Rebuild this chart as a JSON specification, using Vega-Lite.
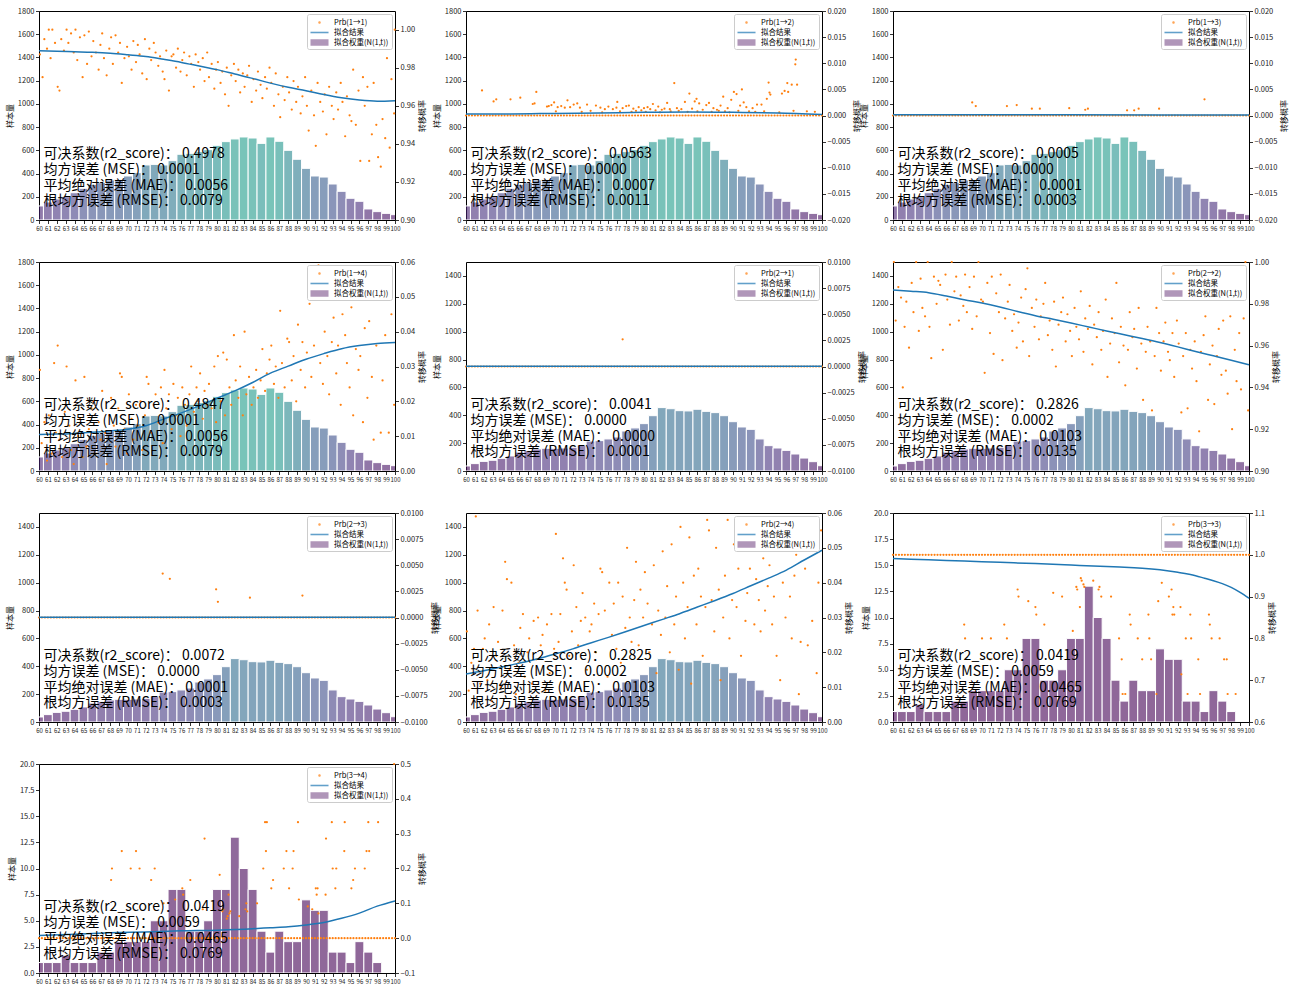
{
"$schema": "https://vega.github.io/schema/vega-lite/v6.json",
"background": "white",
"padding": {"left": 5, "top": 6, "right": 5, "bottom": 5},
"datasets": {
"bA": [{"a":60,"n":121},{"a":61,"n":155},{"a":62,"n":181},{"a":63,"n":201},{"a":64,"n":235},{"a":65,"n":273},{"a":66,"n":307},{"a":67,"n":322},{"a":68,"n":345},{"a":69,"n":350},{"a":70,"n":379},{"a":71,"n":408},{"a":72,"n":474},{"a":73,"n":479},{"a":74,"n":474},{"a":75,"n":511},{"a":76,"n":566},{"a":77,"n":574},{"a":78,"n":589},{"a":79,"n":606},{"a":80,"n":643},{"a":81,"n":675},{"a":82,"n":698},{"a":83,"n":715},{"a":84,"n":706},{"a":85,"n":660},{"a":86,"n":715},{"a":87,"n":678},{"a":88,"n":600},{"a":89,"n":523},{"a":90,"n":445},{"a":91,"n":379},{"a":92,"n":370},{"a":93,"n":310},{"a":94,"n":247},{"a":95,"n":187},{"a":96,"n":161},{"a":97,"n":95},{"a":98,"n":72},{"a":99,"n":57},{"a":100,"n":46}],
"bB": [{"a":60,"n":36},{"a":61,"n":53},{"a":62,"n":69},{"a":63,"n":77},{"a":64,"n":91},{"a":65,"n":108},{"a":66,"n":136},{"a":67,"n":148},{"a":68,"n":158},{"a":69,"n":163},{"a":70,"n":163},{"a":71,"n":165},{"a":72,"n":170},{"a":73,"n":184},{"a":74,"n":215},{"a":75,"n":218},{"a":76,"n":230},{"a":77,"n":244},{"a":78,"n":287},{"a":79,"n":309},{"a":80,"n":340},{"a":81,"n":397},{"a":82,"n":455},{"a":83,"n":447},{"a":84,"n":433},{"a":85,"n":431},{"a":86,"n":443},{"a":87,"n":428},{"a":88,"n":419},{"a":89,"n":397},{"a":90,"n":354},{"a":91,"n":316},{"a":92,"n":299},{"a":93,"n":230},{"a":94,"n":182},{"a":95,"n":165},{"a":96,"n":148},{"a":97,"n":122},{"a":98,"n":93},{"a":99,"n":67},{"a":100,"n":38}],
"bC": [{"a":60,"n":1},{"a":61,"n":1},{"a":62,"n":1},{"a":63,"n":1.7},{"a":64,"n":1},{"a":65,"n":1},{"a":66,"n":1},{"a":67,"n":2},{"a":68,"n":2},{"a":69,"n":3},{"a":70,"n":3},{"a":71,"n":3},{"a":72,"n":3},{"a":73,"n":5},{"a":74,"n":5},{"a":75,"n":8},{"a":76,"n":8},{"a":77,"n":4},{"a":78,"n":4},{"a":79,"n":5},{"a":80,"n":8},{"a":81,"n":8},{"a":82,"n":13},{"a":83,"n":10},{"a":84,"n":8},{"a":85,"n":4},{"a":86,"n":2},{"a":87,"n":4},{"a":88,"n":3},{"a":89,"n":3},{"a":90,"n":7},{"a":91,"n":6},{"a":92,"n":6},{"a":93,"n":2},{"a":94,"n":2},{"a":95,"n":1},{"a":96,"n":3},{"a":97,"n":2},{"a":98,"n":1}],
"zr": [{"x":60},{"x":60.33},{"x":60.67},{"x":61},{"x":61.33},{"x":61.67},{"x":62},{"x":62.33},{"x":62.67},{"x":63},{"x":63.33},{"x":63.67},{"x":64},{"x":64.33},{"x":64.67},{"x":65},{"x":65.33},{"x":65.67},{"x":66},{"x":66.33},{"x":66.67},{"x":67},{"x":67.33},{"x":67.67},{"x":68},{"x":68.33},{"x":68.67},{"x":69},{"x":69.33},{"x":69.67},{"x":70},{"x":70.33},{"x":70.67},{"x":71},{"x":71.33},{"x":71.67},{"x":72},{"x":72.33},{"x":72.67},{"x":73},{"x":73.33},{"x":73.67},{"x":74},{"x":74.33},{"x":74.67},{"x":75},{"x":75.33},{"x":75.67},{"x":76},{"x":76.33},{"x":76.67},{"x":77},{"x":77.33},{"x":77.67},{"x":78},{"x":78.33},{"x":78.67},{"x":79},{"x":79.33},{"x":79.67},{"x":80},{"x":80.33},{"x":80.67},{"x":81},{"x":81.33},{"x":81.67},{"x":82},{"x":82.33},{"x":82.67},{"x":83},{"x":83.33},{"x":83.67},{"x":84},{"x":84.33},{"x":84.67},{"x":85},{"x":85.33},{"x":85.67},{"x":86},{"x":86.33},{"x":86.67},{"x":87},{"x":87.33},{"x":87.67},{"x":88},{"x":88.33},{"x":88.67},{"x":89},{"x":89.33},{"x":89.67},{"x":90},{"x":90.33},{"x":90.67},{"x":91},{"x":91.33},{"x":91.67},{"x":92},{"x":92.33},{"x":92.67},{"x":93},{"x":93.33},{"x":93.67},{"x":94},{"x":94.33},{"x":94.67},{"x":95},{"x":95.33},{"x":95.67},{"x":96},{"x":96.33},{"x":96.67},{"x":97},{"x":97.33},{"x":97.67},{"x":98},{"x":98.33},{"x":98.67},{"x":99},{"x":99.33},{"x":99.67},{"x":100}],
"s1": [{"x":60.1,"y":0.987},{"x":60.4,"y":0.975},{"x":60.6,"y":0.995},{"x":60.9,"y":0.99},{"x":61.1,"y":1},{"x":61.3,"y":0.985},{"x":61.5,"y":1},{"x":61.8,"y":0.993},{"x":62.1,"y":0.97},{"x":62.3,"y":0.968},{"x":62.5,"y":0.995},{"x":62.8,"y":0.989},{"x":63.1,"y":1},{"x":63.3,"y":0.993},{"x":63.6,"y":0.998},{"x":63.9,"y":0.988},{"x":64.1,"y":1},{"x":64.3,"y":0.984},{"x":64.6,"y":0.996},{"x":64.9,"y":0.975},{"x":65.1,"y":0.997},{"x":65.4,"y":0.982},{"x":65.6,"y":0.999},{"x":65.9,"y":0.986},{"x":66.1,"y":0.994},{"x":66.4,"y":0.988},{"x":66.7,"y":0.979},{"x":66.9,"y":0.992},{"x":67.1,"y":0.998},{"x":67.3,"y":0.985},{"x":67.6,"y":0.976},{"x":67.9,"y":0.99},{"x":68.1,"y":0.996},{"x":68.3,"y":0.982},{"x":68.6,"y":0.997},{"x":68.9,"y":0.988},{"x":69.1,"y":0.993},{"x":69.3,"y":0.972},{"x":69.6,"y":0.985},{"x":69.9,"y":0.991},{"x":70.1,"y":0.986},{"x":70.4,"y":0.979},{"x":70.6,"y":0.994},{"x":70.9,"y":0.983},{"x":71.1,"y":0.992},{"x":71.3,"y":0.987},{"x":71.6,"y":0.977},{"x":71.9,"y":0.995},{"x":72.1,"y":0.974},{"x":72.4,"y":0.99},{"x":72.6,"y":0.984},{"x":72.9,"y":0.993},{"x":73.1,"y":0.988},{"x":73.4,"y":0.981},{"x":73.6,"y":0.986},{"x":73.9,"y":0.978},{"x":74.1,"y":0.974},{"x":74.3,"y":0.989},{"x":74.6,"y":0.968},{"x":74.9,"y":0.986},{"x":75.1,"y":0.987},{"x":75.4,"y":0.98},{"x":75.6,"y":0.99},{"x":75.9,"y":0.978},{"x":76.1,"y":0.984},{"x":76.3,"y":0.988},{"x":76.6,"y":0.976},{"x":76.9,"y":0.986},{"x":77.1,"y":0.982},{"x":77.4,"y":0.97},{"x":77.6,"y":0.987},{"x":77.9,"y":0.983},{"x":78.1,"y":0.979},{"x":78.4,"y":0.985},{"x":78.6,"y":0.973},{"x":78.9,"y":0.988},{"x":79.1,"y":0.975},{"x":79.4,"y":0.982},{"x":79.7,"y":0.969},{"x":79.9,"y":0.979},{"x":80.1,"y":0.983},{"x":80.4,"y":0.972},{"x":80.6,"y":0.978},{"x":80.9,"y":0.966},{"x":81.1,"y":0.98},{"x":81.3,"y":0.96},{"x":81.6,"y":0.976},{"x":81.9,"y":0.982},{"x":82.1,"y":0.973},{"x":82.4,"y":0.979},{"x":82.6,"y":0.967},{"x":82.9,"y":0.977},{"x":83.1,"y":0.97},{"x":83.4,"y":0.976},{"x":83.6,"y":0.981},{"x":83.9,"y":0.962},{"x":84.1,"y":0.974},{"x":84.4,"y":0.968},{"x":84.6,"y":0.978},{"x":84.9,"y":0.971},{"x":85.1,"y":0.964},{"x":85.4,"y":0.975},{"x":85.6,"y":0.969},{"x":85.9,"y":0.98},{"x":86.1,"y":0.972},{"x":86.4,"y":0.96},{"x":86.6,"y":0.977},{"x":86.9,"y":0.966},{"x":87.1,"y":0.954},{"x":87.4,"y":0.97},{"x":87.6,"y":0.963},{"x":87.9,"y":0.975},{"x":88.1,"y":0.967},{"x":88.4,"y":0.958},{"x":88.6,"y":0.973},{"x":88.9,"y":0.962},{"x":89.1,"y":0.97},{"x":89.4,"y":0.956},{"x":89.6,"y":0.965},{"x":89.9,"y":0.975},{"x":90.1,"y":0.96},{"x":90.3,"y":0.947},{"x":90.6,"y":0.968},{"x":90.9,"y":0.955},{"x":91.1,"y":0.939},{"x":91.3,"y":0.972},{"x":91.6,"y":0.962},{"x":91.9,"y":0.957},{"x":92.1,"y":0.966},{"x":92.3,"y":0.945},{"x":92.6,"y":0.97},{"x":92.9,"y":0.96},{"x":93.1,"y":0.953},{"x":93.4,"y":0.967},{"x":93.6,"y":0.958},{"x":93.9,"y":0.972},{"x":94.1,"y":0.962},{"x":94.4,"y":0.944},{"x":94.6,"y":0.965},{"x":94.9,"y":0.955},{"x":95.1,"y":0.952},{"x":95.3,"y":0.979},{"x":95.6,"y":0.95},{"x":95.9,"y":0.968},{"x":96.1,"y":0.931},{"x":96.4,"y":0.975},{"x":96.6,"y":0.96},{"x":96.9,"y":0.97},{"x":97.1,"y":0.931},{"x":97.4,"y":0.945},{"x":97.6,"y":0.972},{"x":97.9,"y":0.95},{"x":98.1,"y":0.933},{"x":98.4,"y":0.928},{"x":98.6,"y":0.953},{"x":98.9,"y":0.943},{"x":99.1,"y":0.985},{"x":99.4,"y":0.938},{"x":99.6,"y":0.974},{"x":99.9,"y":0.956},{"x":99.97,"y":1}],
"s2": [{"x":61.8,"y":0.0048},{"x":63.1,"y":0.0027},{"x":63.4,"y":0.0031},{"x":65,"y":0.0031},{"x":66.1,"y":0.0034},{"x":67.5,"y":0.0022},{"x":67.7,"y":0.0023},{"x":67.9,"y":0.0045},{"x":69.1,"y":0.0017},{"x":69.3,"y":0.0018},{"x":69.6,"y":0.002},{"x":69.9,"y":0.0025},{"x":70.1,"y":0.0008},{"x":70.3,"y":0.0016},{"x":70.7,"y":0.0018},{"x":71.1,"y":0.0015},{"x":71.4,"y":0.0029},{"x":71.7,"y":0.0016},{"x":72.1,"y":0.0021},{"x":72.5,"y":0.0023},{"x":72.8,"y":0.0015},{"x":73,"y":0.0007},{"x":73.6,"y":0.0021},{"x":74,"y":0.0009},{"x":74.6,"y":0.0019},{"x":75.1,"y":0.0015},{"x":75.3,"y":0.0006},{"x":75.6,"y":0.0012},{"x":76,"y":0.0017},{"x":76.5,"y":0.0012},{"x":76.9,"y":0.0015},{"x":77,"y":0.0026},{"x":77.3,"y":0.0008},{"x":77.6,"y":0.0014},{"x":78,"y":0.0018},{"x":78.3,"y":0.0019},{"x":78.6,"y":0.0007},{"x":78.8,"y":0.0013},{"x":79.1,"y":0.0009},{"x":79.4,"y":0.0016},{"x":79.7,"y":0.001},{"x":80,"y":0.0014},{"x":80.2,"y":0.0007},{"x":80.4,"y":0.0016},{"x":80.7,"y":0.0012},{"x":81,"y":0.0022},{"x":81.3,"y":0.001},{"x":81.6,"y":0.0017},{"x":81.8,"y":0.0006},{"x":82,"y":0.0011},{"x":82.3,"y":0.0013},{"x":82.6,"y":0.0024},{"x":82.9,"y":0.0012},{"x":83,"y":0.0008},{"x":83.4,"y":0.0062},{"x":83.7,"y":0.0014},{"x":83.9,"y":0.0009},{"x":84.2,"y":0.0012},{"x":84.6,"y":0.0026},{"x":84.9,"y":0.0007},{"x":85.1,"y":0.0042},{"x":85.4,"y":0.0013},{"x":85.7,"y":0.0027},{"x":85.9,"y":0.0032},{"x":86,"y":0.0008},{"x":86.2,"y":0.0023},{"x":86.6,"y":0.0011},{"x":87,"y":0.002},{"x":87.3,"y":0.0024},{"x":87.6,"y":0.0007},{"x":87.8,"y":0.0014},{"x":88.2,"y":0.0011},{"x":88.4,"y":0.0009},{"x":88.6,"y":0.0019},{"x":88.9,"y":0.0036},{"x":89.1,"y":0.0008},{"x":89.4,"y":0.0014},{"x":89.6,"y":0.0006},{"x":89.8,"y":0.003},{"x":90.1,"y":0.0045},{"x":90.4,"y":0.0041},{"x":90.6,"y":0.0009},{"x":90.8,"y":0.0019},{"x":91,"y":0.005},{"x":91.2,"y":0.0025},{"x":91.5,"y":0.0016},{"x":91.8,"y":0.0008},{"x":92.2,"y":0.0014},{"x":92.5,"y":0.0007},{"x":92.7,"y":0.0021},{"x":93.2,"y":0.0021},{"x":93.5,"y":0.0008},{"x":93.8,"y":0.0032},{"x":94,"y":0.0063},{"x":94.1,"y":0.0044},{"x":94.2,"y":0.004},{"x":95.2,"y":0.0006},{"x":95.5,"y":0.0042},{"x":95.8,"y":0.0047},{"x":96.1,"y":0.0062},{"x":96.2,"y":0.0045},{"x":96.6,"y":0.0059},{"x":96.8,"y":0.0009},{"x":97,"y":0.0098},{"x":97.05,"y":0.0107},{"x":97.2,"y":0.0059},{"x":98.3,"y":0.0008},{"x":99.2,"y":0.0007}],
"s3": [{"x":68.9,"y":0.0025},{"x":69.3,"y":0.0018},{"x":72.8,"y":0.0018},{"x":73.9,"y":0.002},{"x":75.6,"y":0.0013},{"x":76.5,"y":0.0013},{"x":79.8,"y":0.0014},{"x":81.6,"y":0.0011},{"x":81.9,"y":0.0013},{"x":86.3,"y":0.001},{"x":87.1,"y":0.001},{"x":87.6,"y":0.0013},{"x":89.9,"y":0.0013},{"x":95,"y":0.0031}],
"s4": [{"x":60.1,"y":0.029},{"x":60.3,"y":0.008},{"x":60.6,"y":0.014},{"x":60.9,"y":0.003},{"x":61.1,"y":0.016},{"x":61.4,"y":0.005},{"x":61.7,"y":0.031},{"x":61.9,"y":0.011},{"x":62.1,"y":0.036},{"x":62.3,"y":0.009},{"x":62.6,"y":0.004},{"x":62.9,"y":0.017},{"x":63.1,"y":0.03},{"x":63.4,"y":0.013},{"x":63.6,"y":0.006},{"x":63.9,"y":0.002},{"x":64.1,"y":0.026},{"x":64.4,"y":0.01},{"x":64.6,"y":0.015},{"x":64.9,"y":0.004},{"x":65.1,"y":0.027},{"x":65.3,"y":0.007},{"x":65.6,"y":0.012},{"x":65.9,"y":0.018},{"x":66.1,"y":0.02},{"x":66.4,"y":0.005},{"x":66.7,"y":0.014},{"x":66.9,"y":0.009},{"x":67.1,"y":0.023},{"x":67.4,"y":0.011},{"x":67.6,"y":0.002},{"x":67.9,"y":0.016},{"x":68.1,"y":0.021},{"x":68.4,"y":0.013},{"x":68.6,"y":0.007},{"x":68.9,"y":0.018},{"x":69.1,"y":0.028},{"x":69.3,"y":0.027},{"x":69.6,"y":0.012},{"x":69.9,"y":0.005},{"x":70.1,"y":0.022},{"x":70.4,"y":0.015},{"x":70.6,"y":0.009},{"x":70.9,"y":0.019},{"x":71.1,"y":0.013},{"x":71.4,"y":0.02},{"x":71.6,"y":0.006},{"x":71.9,"y":0.016},{"x":72.1,"y":0.027},{"x":72.3,"y":0.025},{"x":72.6,"y":0.011},{"x":72.9,"y":0.019},{"x":73.1,"y":0.022},{"x":73.4,"y":0.014},{"x":73.7,"y":0.024},{"x":73.9,"y":0.008},{"x":74.1,"y":0.029},{"x":74.3,"y":0.018},{"x":74.6,"y":0.022},{"x":74.9,"y":0.012},{"x":75.1,"y":0.025},{"x":75.4,"y":0.016},{"x":75.6,"y":0.021},{"x":75.9,"y":0.01},{"x":76.1,"y":0.024},{"x":76.4,"y":0.019},{"x":76.6,"y":0.013},{"x":76.9,"y":0.022},{"x":77.1,"y":0.03},{"x":77.4,"y":0.017},{"x":77.7,"y":0.024},{"x":77.9,"y":0.02},{"x":78.1,"y":0.028},{"x":78.4,"y":0.015},{"x":78.6,"y":0.023},{"x":78.9,"y":0.019},{"x":79.1,"y":0.025},{"x":79.4,"y":0.018},{"x":79.7,"y":0.03},{"x":79.9,"y":0.014},{"x":80.1,"y":0.033},{"x":80.4,"y":0.02},{"x":80.7,"y":0.034},{"x":80.9,"y":0.016},{"x":81.1,"y":0.032},{"x":81.4,"y":0.024},{"x":81.6,"y":0.019},{"x":81.9,"y":0.039},{"x":82.1,"y":0.026},{"x":82.4,"y":0.021},{"x":82.6,"y":0.03},{"x":82.9,"y":0.016},{"x":83.1,"y":0.04},{"x":83.3,"y":0.022},{"x":83.6,"y":0.027},{"x":83.9,"y":0.019},{"x":84.1,"y":0.024},{"x":84.4,"y":0.029},{"x":84.6,"y":0.021},{"x":84.9,"y":0.026},{"x":85.1,"y":0.035},{"x":85.4,"y":0.023},{"x":85.6,"y":0.028},{"x":85.9,"y":0.032},{"x":86.1,"y":0.036},{"x":86.4,"y":0.025},{"x":86.6,"y":0.03},{"x":86.9,"y":0.021},{"x":87.1,"y":0.046},{"x":87.3,"y":0.031},{"x":87.6,"y":0.024},{"x":87.9,"y":0.038},{"x":88.1,"y":0.037},{"x":88.4,"y":0.026},{"x":88.6,"y":0.033},{"x":88.9,"y":0.02},{"x":89.1,"y":0.042},{"x":89.4,"y":0.029},{"x":89.6,"y":0.037},{"x":89.9,"y":0.024},{"x":90.1,"y":0.034},{"x":90.4,"y":0.048},{"x":90.6,"y":0.027},{"x":90.9,"y":0.036},{"x":91.1,"y":0.05},{"x":91.4,"y":0.059},{"x":91.6,"y":0.031},{"x":91.9,"y":0.025},{"x":92.1,"y":0.04},{"x":92.4,"y":0.033},{"x":92.6,"y":0.022},{"x":92.9,"y":0.037},{"x":93.1,"y":0.044},{"x":93.4,"y":0.028},{"x":93.6,"y":0.036},{"x":93.9,"y":0.019},{"x":94.1,"y":0.045},{"x":94.4,"y":0.039},{"x":94.6,"y":0.031},{"x":94.9,"y":0.024},{"x":95.1,"y":0.047},{"x":95.3,"y":0.016},{"x":95.6,"y":0.035},{"x":95.9,"y":0.029},{"x":96.1,"y":0.033},{"x":96.4,"y":0.014},{"x":96.6,"y":0.041},{"x":96.9,"y":0.021},{"x":97.1,"y":0.043},{"x":97.4,"y":0.027},{"x":97.6,"y":0.009},{"x":97.9,"y":0.036},{"x":98.1,"y":0.05},{"x":98.4,"y":0.011},{"x":98.6,"y":0.026},{"x":98.9,"y":0.039},{"x":99.1,"y":0.058},{"x":99.3,"y":0.011},{"x":99.6,"y":0.045},{"x":99.9,"y":0.019}],
"s5": [{"x":77.6,"y":0.0026}],
"s6": [{"x":60.1,"y":1},{"x":60.3,"y":0.972},{"x":60.6,"y":0.988},{"x":60.9,"y":0.983},{"x":61.1,"y":0.94},{"x":61.3,"y":0.969},{"x":61.5,"y":0.981},{"x":61.8,"y":0.959},{"x":62.1,"y":0.99},{"x":62.3,"y":0.976},{"x":62.6,"y":1},{"x":62.9,"y":0.967},{"x":63.1,"y":0.992},{"x":63.3,"y":0.978},{"x":63.6,"y":0.974},{"x":63.9,"y":1},{"x":64.1,"y":0.969},{"x":64.3,"y":0.954},{"x":64.6,"y":0.993},{"x":64.9,"y":0.98},{"x":65.1,"y":0.991},{"x":65.3,"y":0.989},{"x":65.6,"y":0.958},{"x":65.9,"y":0.994},{"x":66.1,"y":0.982},{"x":66.4,"y":0.97},{"x":66.6,"y":1},{"x":66.9,"y":0.986},{"x":67.1,"y":0.993},{"x":67.4,"y":0.972},{"x":67.6,"y":0.984},{"x":67.9,"y":0.979},{"x":68.1,"y":0.994},{"x":68.3,"y":0.976},{"x":68.6,"y":0.988},{"x":68.9,"y":0.968},{"x":69.1,"y":0.993},{"x":69.4,"y":0.974},{"x":69.6,"y":1},{"x":69.9,"y":0.982},{"x":70.1,"y":0.981},{"x":70.3,"y":0.947},{"x":70.6,"y":0.99},{"x":70.9,"y":0.966},{"x":71.1,"y":0.993},{"x":71.3,"y":0.956},{"x":71.6,"y":0.985},{"x":71.9,"y":0.976},{"x":72.1,"y":0.994},{"x":72.3,"y":0.953},{"x":72.6,"y":0.973},{"x":72.9,"y":0.981},{"x":73.1,"y":0.989},{"x":73.4,"y":0.967},{"x":73.6,"y":0.975},{"x":73.9,"y":0.959},{"x":74.1,"y":0.971},{"x":74.4,"y":0.983},{"x":74.6,"y":0.962},{"x":74.9,"y":0.987},{"x":75.1,"y":0.997},{"x":75.3,"y":0.955},{"x":75.6,"y":0.978},{"x":75.9,"y":0.969},{"x":76.1,"y":0.982},{"x":76.4,"y":0.963},{"x":76.6,"y":0.974},{"x":76.9,"y":0.98},{"x":77.1,"y":0.99},{"x":77.4,"y":0.965},{"x":77.6,"y":0.972},{"x":77.9,"y":0.958},{"x":78.1,"y":0.981},{"x":78.3,"y":0.95},{"x":78.6,"y":0.97},{"x":78.9,"y":0.976},{"x":79.1,"y":0.983},{"x":79.4,"y":0.962},{"x":79.6,"y":0.975},{"x":79.9,"y":0.967},{"x":80.1,"y":0.955},{"x":80.4,"y":0.978},{"x":80.6,"y":0.969},{"x":80.9,"y":0.963},{"x":81.1,"y":0.986},{"x":81.4,"y":0.957},{"x":81.6,"y":0.973},{"x":81.9,"y":0.968},{"x":82.1,"y":0.979},{"x":82.4,"y":0.951},{"x":82.6,"y":0.97},{"x":82.9,"y":0.964},{"x":83.1,"y":0.976},{"x":83.4,"y":0.958},{"x":83.6,"y":0.967},{"x":83.9,"y":0.982},{"x":84.1,"y":0.945},{"x":84.4,"y":0.961},{"x":84.6,"y":0.973},{"x":84.9,"y":0.966},{"x":85.1,"y":0.99},{"x":85.4,"y":0.952},{"x":85.6,"y":0.969},{"x":85.9,"y":0.96},{"x":86.1,"y":0.941},{"x":86.4,"y":0.958},{"x":86.6,"y":0.976},{"x":86.9,"y":0.964},{"x":87.1,"y":0.968},{"x":87.4,"y":0.949},{"x":87.6,"y":0.978},{"x":87.9,"y":0.961},{"x":88.1,"y":0.934},{"x":88.4,"y":0.957},{"x":88.6,"y":0.969},{"x":88.9,"y":0.962},{"x":89.1,"y":0.929},{"x":89.4,"y":0.955},{"x":89.6,"y":0.978},{"x":89.9,"y":0.966},{"x":90.1,"y":0.948},{"x":90.4,"y":0.962},{"x":90.6,"y":0.971},{"x":90.9,"y":0.957},{"x":91.1,"y":0.953},{"x":91.4,"y":0.966},{"x":91.6,"y":0.945},{"x":91.9,"y":0.972},{"x":92.1,"y":0.961},{"x":92.4,"y":0.928},{"x":92.6,"y":0.955},{"x":92.9,"y":0.966},{"x":93.1,"y":0.93},{"x":93.4,"y":0.958},{"x":93.6,"y":0.949},{"x":93.9,"y":0.962},{"x":94.1,"y":0.943},{"x":94.4,"y":0.919},{"x":94.6,"y":0.957},{"x":94.9,"y":0.965},{"x":95.1,"y":0.974},{"x":95.4,"y":0.934},{"x":95.6,"y":0.951},{"x":95.9,"y":0.96},{"x":96.1,"y":0.932},{"x":96.4,"y":0.955},{"x":96.6,"y":0.968},{"x":96.9,"y":0.946},{"x":97.1,"y":0.972},{"x":97.4,"y":0.948},{"x":97.6,"y":0.937},{"x":97.9,"y":0.974},{"x":98.1,"y":0.92},{"x":98.4,"y":0.958},{"x":98.6,"y":0.943},{"x":98.9,"y":0.966},{"x":99.1,"y":0.939},{"x":99.4,"y":0.973},{"x":99.6,"y":1},{"x":99.9,"y":0.929}],
"s7": [{"x":73.9,"y":0.0042},{"x":74.7,"y":0.0037},{"x":79.9,"y":0.0027},{"x":80.1,"y":0.0015},{"x":83.7,"y":0.0019},{"x":89.6,"y":0.0021}],
"s8": [{"x":60.1,"y":0.026},{"x":60.3,"y":0.009},{"x":60.6,"y":0.017},{"x":60.9,"y":0.021},{"x":61.1,"y":0.059},{"x":61.3,"y":0.032},{"x":61.6,"y":0.011},{"x":61.9,"y":0.021},{"x":62.1,"y":0.024},{"x":62.4,"y":0.012},{"x":62.6,"y":0.028},{"x":62.9,"y":0.006},{"x":63.1,"y":0.033},{"x":63.4,"y":0.019},{"x":63.6,"y":0.023},{"x":63.9,"y":0.01},{"x":64.1,"y":0.032},{"x":64.4,"y":0.046},{"x":64.6,"y":0.041},{"x":64.9,"y":0.015},{"x":65.1,"y":0.04},{"x":65.4,"y":0.022},{"x":65.6,"y":0.008},{"x":65.9,"y":0.017},{"x":66.1,"y":0.027},{"x":66.4,"y":0.031},{"x":66.6,"y":0.013},{"x":66.9,"y":0.02},{"x":67.1,"y":0.024},{"x":67.4,"y":0.011},{"x":67.6,"y":0.029},{"x":67.9,"y":0.018},{"x":68.1,"y":0.03},{"x":68.4,"y":0.022},{"x":68.6,"y":0.025},{"x":68.9,"y":0.009},{"x":69.1,"y":0.028},{"x":69.4,"y":0.014},{"x":69.6,"y":0.031},{"x":69.9,"y":0.021},{"x":70.1,"y":0.054},{"x":70.4,"y":0.023},{"x":70.6,"y":0.031},{"x":70.9,"y":0.047},{"x":71.1,"y":0.04},{"x":71.3,"y":0.038},{"x":71.6,"y":0.019},{"x":71.9,"y":0.026},{"x":72.1,"y":0.045},{"x":72.4,"y":0.033},{"x":72.6,"y":0.022},{"x":72.9,"y":0.029},{"x":73.1,"y":0.037},{"x":73.4,"y":0.03},{"x":73.6,"y":0.015},{"x":73.9,"y":0.026},{"x":74.1,"y":0.028},{"x":74.4,"y":0.034},{"x":74.6,"y":0.02},{"x":74.9,"y":0.031},{"x":75.1,"y":0.044},{"x":75.3,"y":0.043},{"x":75.6,"y":0.032},{"x":75.9,"y":0.013},{"x":76.1,"y":0.04},{"x":76.4,"y":0.025},{"x":76.6,"y":0.034},{"x":76.9,"y":0.021},{"x":77.1,"y":0.04},{"x":77.4,"y":0.017},{"x":77.6,"y":0.036},{"x":77.9,"y":0.027},{"x":78.1,"y":0.05},{"x":78.4,"y":0.03},{"x":78.6,"y":0.023},{"x":78.9,"y":0.035},{"x":79.1,"y":0.046},{"x":79.4,"y":0.022},{"x":79.6,"y":0.038},{"x":79.9,"y":0.03},{"x":80.1,"y":0.043},{"x":80.4,"y":0.034},{"x":80.6,"y":0.02},{"x":80.9,"y":0.028},{"x":81.1,"y":0.045},{"x":81.4,"y":0.014},{"x":81.6,"y":0.032},{"x":81.9,"y":0.025},{"x":82.1,"y":0.049},{"x":82.4,"y":0.03},{"x":82.6,"y":0.039},{"x":82.9,"y":0.02},{"x":83.1,"y":0.051},{"x":83.4,"y":0.028},{"x":83.6,"y":0.036},{"x":83.9,"y":0.015},{"x":84.1,"y":0.056},{"x":84.4,"y":0.04},{"x":84.6,"y":0.024},{"x":84.9,"y":0.033},{"x":85.1,"y":0.053},{"x":85.3,"y":0.011},{"x":85.6,"y":0.042},{"x":85.9,"y":0.028},{"x":86.1,"y":0.044},{"x":86.4,"y":0.036},{"x":86.6,"y":0.019},{"x":86.9,"y":0.033},{"x":87.1,"y":0.058},{"x":87.3,"y":0.055},{"x":87.6,"y":0.035},{"x":87.9,"y":0.026},{"x":88.1,"y":0.05},{"x":88.4,"y":0.038},{"x":88.6,"y":0.012},{"x":88.9,"y":0.03},{"x":89.1,"y":0.042},{"x":89.4,"y":0.058},{"x":89.6,"y":0.024},{"x":89.9,"y":0.035},{"x":90.1,"y":0.051},{"x":90.4,"y":0.033},{"x":90.6,"y":0.044},{"x":90.9,"y":0.019},{"x":91.1,"y":0.05},{"x":91.4,"y":0.029},{"x":91.6,"y":0.037},{"x":91.9,"y":0.044},{"x":92.1,"y":0.05},{"x":92.4,"y":0.028},{"x":92.6,"y":0.041},{"x":92.9,"y":0.035},{"x":93.1,"y":0.026},{"x":93.4,"y":0.047},{"x":93.6,"y":0.032},{"x":93.9,"y":0.039},{"x":94.1,"y":0.045},{"x":94.4,"y":0.028},{"x":94.6,"y":0.036},{"x":94.9,"y":0.019},{"x":95.1,"y":0.052},{"x":95.3,"y":0.012},{"x":95.6,"y":0.04},{"x":95.9,"y":0.03},{"x":96.1,"y":0.05},{"x":96.4,"y":0.036},{"x":96.6,"y":0.024},{"x":96.9,"y":0.042},{"x":97.1,"y":0.048},{"x":97.4,"y":0.008},{"x":97.6,"y":0.023},{"x":97.9,"y":0.051},{"x":98.1,"y":0.044},{"x":98.4,"y":0.022},{"x":98.6,"y":0.053},{"x":98.9,"y":0.029},{"x":99.1,"y":0.057},{"x":99.4,"y":0.014},{"x":99.6,"y":0.04},{"x":99.9,"y":0.055}],
"s9": [{"x":68,"y":0.833},{"x":68.1,"y":0.8},{"x":70,"y":0.8},{"x":70.9,"y":0.75},{"x":71,"y":0.8},{"x":72.5,"y":0.833},{"x":72.8,"y":0.8},{"x":74,"y":0.917},{"x":74.1,"y":0.9},{"x":75.2,"y":0.889},{"x":76,"y":0.875},{"x":76.1,"y":0.857},{"x":77,"y":0.833},{"x":78,"y":0.909},{"x":79,"y":0.9},{"x":80.2,"y":0.818},{"x":80.6,"y":0.923},{"x":80.7,"y":0.917},{"x":81,"y":0.875},{"x":81.1,"y":0.944},{"x":81.2,"y":0.938},{"x":81.4,"y":0.929},{"x":81.5,"y":0.923},{"x":82.5,"y":0.938},{"x":83.1,"y":0.917},{"x":83.2,"y":0.923},{"x":83.4,"y":0.9},{"x":84.5,"y":0.9},{"x":85.4,"y":0.8},{"x":85.7,"y":0.75},{"x":85.8,"y":0.667},{"x":86.1,"y":0.667},{"x":86.6,"y":0.857},{"x":86.7,"y":0.833},{"x":87.5,"y":0.8},{"x":88,"y":0.75},{"x":88.7,"y":0.857},{"x":88.8,"y":0.8},{"x":89,"y":0.75},{"x":89.6,"y":0.667},{"x":89.8,"y":0.889},{"x":90.2,"y":0.933},{"x":91,"y":0.9},{"x":91.3,"y":0.917},{"x":91.4,"y":0.857},{"x":91.5,"y":0.875},{"x":91.6,"y":0.857},{"x":92.3,"y":0.875},{"x":92.4,"y":0.714},{"x":92.9,"y":0.8},{"x":93.1,"y":0.667},{"x":93.4,"y":0.857},{"x":93.5,"y":0.8},{"x":94.3,"y":0.75},{"x":94.5,"y":0.667},{"x":95.5,"y":0.857},{"x":95.6,"y":0.833},{"x":95.8,"y":0.8},{"x":96.7,"y":0.8},{"x":97.2,"y":0.75},{"x":97.5,"y":0.75},{"x":97.6,"y":0.667},{"x":98.5,"y":0.667}],
"s10": [{"x":68.1,"y":0.167},{"x":68.2,"y":0.2},{"x":69.3,"y":0.25},{"x":70.3,"y":0.2},{"x":70.9,"y":0.25},{"x":71.3,"y":0.2},{"x":72.6,"y":0.167},{"x":73,"y":0.2},{"x":74,"y":0.1},{"x":75.3,"y":0.111},{"x":76.1,"y":0.143},{"x":76.2,"y":0.125},{"x":77,"y":0.167},{"x":78.4,"y":0.083},{"x":78.6,"y":0.286},{"x":80.3,"y":0.182},{"x":80.6,"y":0.077},{"x":80.7,"y":0.083},{"x":81.1,"y":0.056},{"x":81.2,"y":0.063},{"x":81.3,"y":0.125},{"x":81.4,"y":0.071},{"x":81.5,"y":0.077},{"x":82.5,"y":0.063},{"x":83.2,"y":0.083},{"x":83.3,"y":0.1},{"x":83.4,"y":0.077},{"x":84.5,"y":0.1},{"x":85.2,"y":0.2},{"x":85.4,"y":0.333},{"x":85.5,"y":0.25},{"x":85.6,"y":0.333},{"x":86.1,"y":0.143},{"x":86.3,"y":0.167},{"x":87.5,"y":0.2},{"x":87.8,"y":0.25},{"x":88.1,"y":0.143},{"x":88.5,"y":0.2},{"x":88.6,"y":0.25},{"x":89.1,"y":0.333},{"x":89.2,"y":0.111},{"x":90.2,"y":0.091},{"x":90.7,"y":0.083},{"x":91.1,"y":0.143},{"x":91.2,"y":0.125},{"x":91.3,"y":0.143},{"x":91.4,"y":0.071},{"x":92.2,"y":0.125},{"x":92.25,"y":0.286},{"x":92.9,"y":0.333},{"x":93,"y":0.2},{"x":93.3,"y":0.143},{"x":93.4,"y":0.2},{"x":94.3,"y":0.25},{"x":94.35,"y":0.333},{"x":95.1,"y":0.143},{"x":95.3,"y":0.167},{"x":95.5,"y":0.2},{"x":96.6,"y":0.2},{"x":96.8,"y":0.25},{"x":97,"y":0.333},{"x":97.1,"y":0.25},{"x":98.1,"y":0.333},{"x":99.9,"y":0.5}],
"f1": [{"x":60,"y":0.9889},{"x":62,"y":0.9887},{"x":64,"y":0.9884},{"x":66,"y":0.9881},{"x":68,"y":0.9876},{"x":70,"y":0.9868},{"x":72,"y":0.9859},{"x":74,"y":0.9844},{"x":76,"y":0.9828},{"x":78,"y":0.9809},{"x":80,"y":0.979},{"x":82,"y":0.9767},{"x":84,"y":0.9744},{"x":86,"y":0.9719},{"x":88,"y":0.9697},{"x":90,"y":0.9679},{"x":92,"y":0.9659},{"x":94,"y":0.9642},{"x":96,"y":0.963},{"x":98,"y":0.9624},{"x":100,"y":0.9627}],
"f2": [{"x":60,"y":0.0003},{"x":65,"y":0.0003},{"x":70,"y":0.0004},{"x":75,"y":0.0005},{"x":80,"y":0.0006},{"x":85,"y":0.00065},{"x":90,"y":0.0006},{"x":95,"y":0.0005},{"x":100,"y":0.0002}],
"f3": [{"x":60,"y":0.00012},{"x":80,"y":0.00012},{"x":100,"y":0.00011}],
"f4": [{"x":60,"y":0.0105},{"x":62,"y":0.0106},{"x":64,"y":0.0108},{"x":66,"y":0.0111},{"x":68,"y":0.0115},{"x":70,"y":0.012},{"x":72,"y":0.013},{"x":74,"y":0.0149},{"x":76,"y":0.0167},{"x":78,"y":0.0187},{"x":80,"y":0.0209},{"x":82,"y":0.023},{"x":84,"y":0.0254},{"x":86,"y":0.0281},{"x":88,"y":0.0301},{"x":90,"y":0.0321},{"x":92,"y":0.0337},{"x":94,"y":0.0351},{"x":96,"y":0.036},{"x":98,"y":0.0366},{"x":100,"y":0.0369}],
"f5": [{"x":60,"y":0.00003},{"x":100,"y":0.00003}],
"f6": [{"x":60,"y":0.9866},{"x":62,"y":0.986},{"x":64,"y":0.9853},{"x":66,"y":0.9837},{"x":68,"y":0.9819},{"x":70,"y":0.9804},{"x":72,"y":0.9785},{"x":74,"y":0.9763},{"x":76,"y":0.9743},{"x":78,"y":0.9726},{"x":80,"y":0.9708},{"x":82,"y":0.9689},{"x":84,"y":0.967},{"x":86,"y":0.9652},{"x":88,"y":0.9634},{"x":90,"y":0.9615},{"x":92,"y":0.9594},{"x":94,"y":0.9572},{"x":96,"y":0.9551},{"x":98,"y":0.953},{"x":100,"y":0.9508}],
"f7": [{"x":60,"y":0.00003},{"x":100,"y":0.00003}],
"f8": [{"x":60,"y":0.0138},{"x":62,"y":0.0147},{"x":64,"y":0.0158},{"x":66,"y":0.0169},{"x":68,"y":0.0181},{"x":70,"y":0.0195},{"x":72,"y":0.021},{"x":74,"y":0.0227},{"x":76,"y":0.0243},{"x":78,"y":0.026},{"x":80,"y":0.0277},{"x":82,"y":0.0294},{"x":84,"y":0.0311},{"x":86,"y":0.033},{"x":88,"y":0.0349},{"x":90,"y":0.0369},{"x":92,"y":0.0391},{"x":94,"y":0.0413},{"x":96,"y":0.0436},{"x":98,"y":0.0465},{"x":100,"y":0.0493}],
"f9": [{"x":60,"y":0.991},{"x":64,"y":0.988},{"x":68,"y":0.985},{"x":72,"y":0.982},{"x":76,"y":0.979},{"x":80,"y":0.9755},{"x":84,"y":0.972},{"x":86,"y":0.9705},{"x":88,"y":0.968},{"x":90,"y":0.964},{"x":92,"y":0.958},{"x":94,"y":0.95},{"x":95,"y":0.944},{"x":96,"y":0.938},{"x":97,"y":0.931},{"x":98,"y":0.922},{"x":99,"y":0.91},{"x":100,"y":0.896}],
"f10": [{"x":60,"y":0.0077},{"x":64,"y":0.0115},{"x":68,"y":0.0155},{"x":72,"y":0.018},{"x":76,"y":0.021},{"x":80,"y":0.023},{"x":84,"y":0.027},{"x":86,"y":0.03},{"x":88,"y":0.033},{"x":90,"y":0.038},{"x":92,"y":0.045},{"x":94,"y":0.057},{"x":96,"y":0.072},{"x":98,"y":0.092},{"x":100,"y":0.107}]
},
"concat": [
{"width":356,"height":209,"layer":[
 {"data":{"name":"bA"},"mark":{"type":"bar","width":8.9,"clip":true,"stroke":"#ffffff","strokeWidth":1,"fillOpacity":0.6},
  "encoding":{"x":{"field":"a","type":"quantitative","scale":{"domain":[60,100],"nice":false,"zero":false,"padding":0},"axis":{"title":null,"format":"d","labelOverlap":false,"tickCount":100,"values":[60,61,62,63,64,65,66,67,68,69,70,71,72,73,74,75,76,77,78,79,80,81,82,83,84,85,86,87,88,89,90,91,92,93,94,95,96,97,98,99,100]}},
   "y":{"field":"n","type":"quantitative","scale":{"domain":[0,1800],"nice":false},"axis":{"title":"样本量","labelOverlap":false,"tickCount":100,"values":[0,200,400,600,800,1000,1200,1400,1600,1800],"format":"d"}},
   "fill":{"field":"n","type":"quantitative","scale":{"scheme":"viridis","domain":[0,1300]},"legend":null}}},
 {"layer":[
  {"data":{"name":"s1"},"mark":{"type":"circle","size":5,"color":"#ff7f0e","opacity":1},
   "encoding":{"x":{"field":"x","type":"quantitative"},"y":{"field":"y","type":"quantitative","scale":{"domain":[0.9,1.0098],"nice":false,"zero":false},"axis":{"orient":"right","title":"转移概率","titleAngle":270,"titlePadding":12,"labelOverlap":false,"tickCount":100,"values":[0.9,0.92,0.94,0.96,0.98,1],"format":".2f"}}}},
  {"data":{"name":"f1"},"mark":{"type":"line","color":"#1f77b4","strokeWidth":1.5,"interpolate":"monotone"},
   "encoding":{"x":{"field":"x","type":"quantitative"},"y":{"field":"y","type":"quantitative"}}}
 ]},
 {"data":{"values":[{"i":1,"t":"可决系数(r2_score)： 0.4978"},{"i":2,"t":"均方误差 (MSE)： 0.0001"},{"i":3,"t":"平均绝对误差 (MAE)： 0.0056"},{"i":4,"t":"根均方误差 (RMSE)： 0.0079"}]},
  "mark":{"type":"text","align":"left","baseline":"middle","fontSize":14,"font":"Noto Sans CJK SC","color":"#000"},
  "encoding":{"x":{"datum":60.5,"type":"quantitative"},"y":{"field":"i","type":"quantitative","scale":{"domain":[-8.129,5.186],"reverse":true,"nice":false,"zero":false},"axis":null},"text":{"field":"t"}}},
 {"data":{"values":[]},"mark":{"type":"point","filled":true},
  "encoding":{"color":{"field":"l","type":"nominal","title":null,"scale":{"domain":["Prb(1→1)","拟合结果","拟合权重(N(1,t))"],"range":["#ff7f0e","#1f77b4","#8e6a9b"]}},
   "shape":{"field":"l","type":"nominal","title":null,"scale":{"domain":["Prb(1→1)","拟合结果","拟合权重(N(1,t))"],"range":["M-0.24,0A0.24,0.24,0,1,1,0.24,0A0.24,0.24,0,1,1,-0.24,0Z","M-1.72,-0.15H1.72V0.15H-1.72Z","M-1.72,-0.62H1.72V0.62H-1.72Z"]}}}}
],"resolve":{"scale":{"y":"independent"}}},

{"width":356,"height":209,"layer":[
 {"data":{"name":"bA"},"mark":{"type":"bar","width":8.9,"clip":true,"stroke":"#ffffff","strokeWidth":1,"fillOpacity":0.6},
  "encoding":{"x":{"field":"a","type":"quantitative","scale":{"domain":[60,100],"nice":false,"zero":false,"padding":0},"axis":{"title":null,"format":"d","labelOverlap":false,"tickCount":100,"values":[60,61,62,63,64,65,66,67,68,69,70,71,72,73,74,75,76,77,78,79,80,81,82,83,84,85,86,87,88,89,90,91,92,93,94,95,96,97,98,99,100]}},
   "y":{"field":"n","type":"quantitative","scale":{"domain":[0,1800],"nice":false},"axis":{"title":"样本量","labelOverlap":false,"tickCount":100,"values":[0,200,400,600,800,1000,1200,1400,1600,1800],"format":"d"}},
   "fill":{"field":"n","type":"quantitative","scale":{"scheme":"viridis","domain":[0,1300]},"legend":null}}},
 {"layer":[
  {"data":{"name":"zr"},"mark":{"type":"circle","size":5,"color":"#ff7f0e","opacity":1},
   "encoding":{"x":{"field":"x","type":"quantitative"},"y":{"datum":0,"type":"quantitative"}}},
  {"data":{"name":"s2"},"mark":{"type":"circle","size":5,"color":"#ff7f0e","opacity":1},
   "encoding":{"x":{"field":"x","type":"quantitative"},"y":{"field":"y","type":"quantitative","scale":{"domain":[-0.02,0.02],"nice":false,"zero":false},"axis":{"orient":"right","title":"转移概率","titleAngle":270,"titlePadding":12,"labelOverlap":false,"tickCount":100,"values":[-0.02,-0.015,-0.01,-0.005,0,0.005,0.01,0.015,0.02],"format":".3f"}}}},
  {"data":{"name":"f2"},"mark":{"type":"line","color":"#1f77b4","strokeWidth":1.5,"interpolate":"monotone"},
   "encoding":{"x":{"field":"x","type":"quantitative"},"y":{"field":"y","type":"quantitative"}}}
 ]},
 {"data":{"values":[{"i":1,"t":"可决系数(r2_score)： 0.0563"},{"i":2,"t":"均方误差 (MSE)： 0.0000"},{"i":3,"t":"平均绝对误差 (MAE)： 0.0007"},{"i":4,"t":"根均方误差 (RMSE)： 0.0011"}]},
  "mark":{"type":"text","align":"left","baseline":"middle","fontSize":14,"font":"Noto Sans CJK SC","color":"#000"},
  "encoding":{"x":{"datum":60.5,"type":"quantitative"},"y":{"field":"i","type":"quantitative","scale":{"domain":[-8.129,5.186],"reverse":true,"nice":false,"zero":false},"axis":null},"text":{"field":"t"}}},
 {"data":{"values":[]},"mark":{"type":"point","filled":true},
  "encoding":{"color":{"field":"l","type":"nominal","title":null,"scale":{"domain":["Prb(1→2)","拟合结果","拟合权重(N(1,t))"],"range":["#ff7f0e","#1f77b4","#8e6a9b"]}},
   "shape":{"field":"l","type":"nominal","title":null,"scale":{"domain":["Prb(1→2)","拟合结果","拟合权重(N(1,t))"],"range":["M-0.24,0A0.24,0.24,0,1,1,0.24,0A0.24,0.24,0,1,1,-0.24,0Z","M-1.72,-0.15H1.72V0.15H-1.72Z","M-1.72,-0.62H1.72V0.62H-1.72Z"]}}}}
],"resolve":{"scale":{"y":"independent"}}},

{"width":356,"height":209,"layer":[
 {"data":{"name":"bA"},"mark":{"type":"bar","width":8.9,"clip":true,"stroke":"#ffffff","strokeWidth":1,"fillOpacity":0.6},
  "encoding":{"x":{"field":"a","type":"quantitative","scale":{"domain":[60,100],"nice":false,"zero":false,"padding":0},"axis":{"title":null,"format":"d","labelOverlap":false,"tickCount":100,"values":[60,61,62,63,64,65,66,67,68,69,70,71,72,73,74,75,76,77,78,79,80,81,82,83,84,85,86,87,88,89,90,91,92,93,94,95,96,97,98,99,100]}},
   "y":{"field":"n","type":"quantitative","scale":{"domain":[0,1800],"nice":false},"axis":{"title":"样本量","labelOverlap":false,"tickCount":100,"values":[0,200,400,600,800,1000,1200,1400,1600,1800],"format":"d"}},
   "fill":{"field":"n","type":"quantitative","scale":{"scheme":"viridis","domain":[0,1300]},"legend":null}}},
 {"layer":[
  {"data":{"name":"zr"},"mark":{"type":"circle","size":5,"color":"#ff7f0e","opacity":1},
   "encoding":{"x":{"field":"x","type":"quantitative"},"y":{"datum":0,"type":"quantitative"}}},
  {"data":{"name":"s3"},"mark":{"type":"circle","size":5,"color":"#ff7f0e","opacity":1},
   "encoding":{"x":{"field":"x","type":"quantitative"},"y":{"field":"y","type":"quantitative","scale":{"domain":[-0.02,0.02],"nice":false,"zero":false},"axis":{"orient":"right","title":"转移概率","titleAngle":270,"titlePadding":12,"labelOverlap":false,"tickCount":100,"values":[-0.02,-0.015,-0.01,-0.005,0,0.005,0.01,0.015,0.02],"format":".3f"}}}},
  {"data":{"name":"f3"},"mark":{"type":"line","color":"#1f77b4","strokeWidth":1.5,"interpolate":"monotone"},
   "encoding":{"x":{"field":"x","type":"quantitative"},"y":{"field":"y","type":"quantitative"}}}
 ]},
 {"data":{"values":[{"i":1,"t":"可决系数(r2_score)： 0.0005"},{"i":2,"t":"均方误差 (MSE)： 0.0000"},{"i":3,"t":"平均绝对误差 (MAE)： 0.0001"},{"i":4,"t":"根均方误差 (RMSE)： 0.0003"}]},
  "mark":{"type":"text","align":"left","baseline":"middle","fontSize":14,"font":"Noto Sans CJK SC","color":"#000"},
  "encoding":{"x":{"datum":60.5,"type":"quantitative"},"y":{"field":"i","type":"quantitative","scale":{"domain":[-8.129,5.186],"reverse":true,"nice":false,"zero":false},"axis":null},"text":{"field":"t"}}},
 {"data":{"values":[]},"mark":{"type":"point","filled":true},
  "encoding":{"color":{"field":"l","type":"nominal","title":null,"scale":{"domain":["Prb(1→3)","拟合结果","拟合权重(N(1,t))"],"range":["#ff7f0e","#1f77b4","#8e6a9b"]}},
   "shape":{"field":"l","type":"nominal","title":null,"scale":{"domain":["Prb(1→3)","拟合结果","拟合权重(N(1,t))"],"range":["M-0.24,0A0.24,0.24,0,1,1,0.24,0A0.24,0.24,0,1,1,-0.24,0Z","M-1.72,-0.15H1.72V0.15H-1.72Z","M-1.72,-0.62H1.72V0.62H-1.72Z"]}}}}
],"resolve":{"scale":{"y":"independent"}}},

{"width":356,"height":209,"layer":[
 {"data":{"name":"bA"},"mark":{"type":"bar","width":8.9,"clip":true,"stroke":"#ffffff","strokeWidth":1,"fillOpacity":0.6},
  "encoding":{"x":{"field":"a","type":"quantitative","scale":{"domain":[60,100],"nice":false,"zero":false,"padding":0},"axis":{"title":null,"format":"d","labelOverlap":false,"tickCount":100,"values":[60,61,62,63,64,65,66,67,68,69,70,71,72,73,74,75,76,77,78,79,80,81,82,83,84,85,86,87,88,89,90,91,92,93,94,95,96,97,98,99,100]}},
   "y":{"field":"n","type":"quantitative","scale":{"domain":[0,1800],"nice":false},"axis":{"title":"样本量","labelOverlap":false,"tickCount":100,"values":[0,200,400,600,800,1000,1200,1400,1600,1800],"format":"d"}},
   "fill":{"field":"n","type":"quantitative","scale":{"scheme":"viridis","domain":[0,1300]},"legend":null}}},
 {"layer":[
  {"data":{"name":"s4"},"mark":{"type":"circle","size":5,"color":"#ff7f0e","opacity":1},
   "encoding":{"x":{"field":"x","type":"quantitative"},"y":{"field":"y","type":"quantitative","scale":{"domain":[0,0.06],"nice":false,"zero":false},"axis":{"orient":"right","title":"转移概率","titleAngle":270,"titlePadding":12,"labelOverlap":false,"tickCount":100,"values":[0,0.01,0.02,0.03,0.04,0.05,0.06],"format":".2f"}}}},
  {"data":{"name":"f4"},"mark":{"type":"line","color":"#1f77b4","strokeWidth":1.5,"interpolate":"monotone"},
   "encoding":{"x":{"field":"x","type":"quantitative"},"y":{"field":"y","type":"quantitative"}}}
 ]},
 {"data":{"values":[{"i":1,"t":"可决系数(r2_score)： 0.4847"},{"i":2,"t":"均方误差 (MSE)： 0.0001"},{"i":3,"t":"平均绝对误差 (MAE)： 0.0056"},{"i":4,"t":"根均方误差 (RMSE)： 0.0079"}]},
  "mark":{"type":"text","align":"left","baseline":"middle","fontSize":14,"font":"Noto Sans CJK SC","color":"#000"},
  "encoding":{"x":{"datum":60.5,"type":"quantitative"},"y":{"field":"i","type":"quantitative","scale":{"domain":[-8.129,5.186],"reverse":true,"nice":false,"zero":false},"axis":null},"text":{"field":"t"}}},
 {"data":{"values":[]},"mark":{"type":"point","filled":true},
  "encoding":{"color":{"field":"l","type":"nominal","title":null,"scale":{"domain":["Prb(1→4)","拟合结果","拟合权重(N(1,t))"],"range":["#ff7f0e","#1f77b4","#8e6a9b"]}},
   "shape":{"field":"l","type":"nominal","title":null,"scale":{"domain":["Prb(1→4)","拟合结果","拟合权重(N(1,t))"],"range":["M-0.24,0A0.24,0.24,0,1,1,0.24,0A0.24,0.24,0,1,1,-0.24,0Z","M-1.72,-0.15H1.72V0.15H-1.72Z","M-1.72,-0.62H1.72V0.62H-1.72Z"]}}}}
],"resolve":{"scale":{"y":"independent"}}},

{"width":356,"height":209,"layer":[
 {"data":{"name":"bB"},"mark":{"type":"bar","width":8.9,"clip":true,"stroke":"#ffffff","strokeWidth":1,"fillOpacity":0.6},
  "encoding":{"x":{"field":"a","type":"quantitative","scale":{"domain":[60,100],"nice":false,"zero":false,"padding":0},"axis":{"title":null,"format":"d","labelOverlap":false,"tickCount":100,"values":[60,61,62,63,64,65,66,67,68,69,70,71,72,73,74,75,76,77,78,79,80,81,82,83,84,85,86,87,88,89,90,91,92,93,94,95,96,97,98,99,100]}},
   "y":{"field":"n","type":"quantitative","scale":{"domain":[0,1500],"nice":false},"axis":{"title":"样本量","labelOverlap":false,"tickCount":100,"values":[0,200,400,600,800,1000,1200,1400],"format":"d"}},
   "fill":{"field":"n","type":"quantitative","scale":{"scheme":"viridis","domain":[0,1300]},"legend":null}}},
 {"layer":[
  {"data":{"name":"zr"},"mark":{"type":"circle","size":5,"color":"#ff7f0e","opacity":1},
   "encoding":{"x":{"field":"x","type":"quantitative"},"y":{"datum":0,"type":"quantitative"}}},
  {"data":{"name":"s5"},"mark":{"type":"circle","size":5,"color":"#ff7f0e","opacity":1},
   "encoding":{"x":{"field":"x","type":"quantitative"},"y":{"field":"y","type":"quantitative","scale":{"domain":[-0.01,0.01],"nice":false,"zero":false},"axis":{"orient":"right","title":"转移概率","titleAngle":270,"titlePadding":12,"labelOverlap":false,"tickCount":100,"values":[-0.01,-0.0075,-0.005,-0.0025,0,0.0025,0.005,0.0075,0.01],"format":".4f"}}}},
  {"data":{"name":"f5"},"mark":{"type":"line","color":"#1f77b4","strokeWidth":1.5},
   "encoding":{"x":{"field":"x","type":"quantitative"},"y":{"field":"y","type":"quantitative"}}}
 ]},
 {"data":{"values":[{"i":1,"t":"可决系数(r2_score)： 0.0041"},{"i":2,"t":"均方误差 (MSE)： 0.0000"},{"i":3,"t":"平均绝对误差 (MAE)： 0.0000"},{"i":4,"t":"根均方误差 (RMSE)： 0.0001"}]},
  "mark":{"type":"text","align":"left","baseline":"middle","fontSize":14,"font":"Noto Sans CJK SC","color":"#000"},
  "encoding":{"x":{"datum":60.5,"type":"quantitative"},"y":{"field":"i","type":"quantitative","scale":{"domain":[-8.129,5.186],"reverse":true,"nice":false,"zero":false},"axis":null},"text":{"field":"t"}}},
 {"data":{"values":[]},"mark":{"type":"point","filled":true},
  "encoding":{"color":{"field":"l","type":"nominal","title":null,"scale":{"domain":["Prb(2→1)","拟合结果","拟合权重(N(1,t))"],"range":["#ff7f0e","#1f77b4","#8e6a9b"]}},
   "shape":{"field":"l","type":"nominal","title":null,"scale":{"domain":["Prb(2→1)","拟合结果","拟合权重(N(1,t))"],"range":["M-0.24,0A0.24,0.24,0,1,1,0.24,0A0.24,0.24,0,1,1,-0.24,0Z","M-1.72,-0.15H1.72V0.15H-1.72Z","M-1.72,-0.62H1.72V0.62H-1.72Z"]}}}}
],"resolve":{"scale":{"y":"independent"}}},

{"width":356,"height":209,"layer":[
 {"data":{"name":"bB"},"mark":{"type":"bar","width":8.9,"clip":true,"stroke":"#ffffff","strokeWidth":1,"fillOpacity":0.6},
  "encoding":{"x":{"field":"a","type":"quantitative","scale":{"domain":[60,100],"nice":false,"zero":false,"padding":0},"axis":{"title":null,"format":"d","labelOverlap":false,"tickCount":100,"values":[60,61,62,63,64,65,66,67,68,69,70,71,72,73,74,75,76,77,78,79,80,81,82,83,84,85,86,87,88,89,90,91,92,93,94,95,96,97,98,99,100]}},
   "y":{"field":"n","type":"quantitative","scale":{"domain":[0,1500],"nice":false},"axis":{"title":"样本量","labelOverlap":false,"tickCount":100,"values":[0,200,400,600,800,1000,1200,1400],"format":"d"}},
   "fill":{"field":"n","type":"quantitative","scale":{"scheme":"viridis","domain":[0,1300]},"legend":null}}},
 {"layer":[
  {"data":{"name":"s6"},"mark":{"type":"circle","size":5,"color":"#ff7f0e","opacity":1},
   "encoding":{"x":{"field":"x","type":"quantitative"},"y":{"field":"y","type":"quantitative","scale":{"domain":[0.9,1],"nice":false,"zero":false},"axis":{"orient":"right","title":"转移概率","titleAngle":270,"titlePadding":12,"labelOverlap":false,"tickCount":100,"values":[0.9,0.92,0.94,0.96,0.98,1],"format":".2f"}}}},
  {"data":{"name":"f6"},"mark":{"type":"line","color":"#1f77b4","strokeWidth":1.5,"interpolate":"monotone"},
   "encoding":{"x":{"field":"x","type":"quantitative"},"y":{"field":"y","type":"quantitative"}}}
 ]},
 {"data":{"values":[{"i":1,"t":"可决系数(r2_score)： 0.2826"},{"i":2,"t":"均方误差 (MSE)： 0.0002"},{"i":3,"t":"平均绝对误差 (MAE)： 0.0103"},{"i":4,"t":"根均方误差 (RMSE)： 0.0135"}]},
  "mark":{"type":"text","align":"left","baseline":"middle","fontSize":14,"font":"Noto Sans CJK SC","color":"#000"},
  "encoding":{"x":{"datum":60.5,"type":"quantitative"},"y":{"field":"i","type":"quantitative","scale":{"domain":[-8.129,5.186],"reverse":true,"nice":false,"zero":false},"axis":null},"text":{"field":"t"}}},
 {"data":{"values":[]},"mark":{"type":"point","filled":true},
  "encoding":{"color":{"field":"l","type":"nominal","title":null,"scale":{"domain":["Prb(2→2)","拟合结果","拟合权重(N(1,t))"],"range":["#ff7f0e","#1f77b4","#8e6a9b"]}},
   "shape":{"field":"l","type":"nominal","title":null,"scale":{"domain":["Prb(2→2)","拟合结果","拟合权重(N(1,t))"],"range":["M-0.24,0A0.24,0.24,0,1,1,0.24,0A0.24,0.24,0,1,1,-0.24,0Z","M-1.72,-0.15H1.72V0.15H-1.72Z","M-1.72,-0.62H1.72V0.62H-1.72Z"]}}}}
],"resolve":{"scale":{"y":"independent"}}},

{"width":356,"height":209,"layer":[
 {"data":{"name":"bB"},"mark":{"type":"bar","width":8.9,"clip":true,"stroke":"#ffffff","strokeWidth":1,"fillOpacity":0.6},
  "encoding":{"x":{"field":"a","type":"quantitative","scale":{"domain":[60,100],"nice":false,"zero":false,"padding":0},"axis":{"title":null,"format":"d","labelOverlap":false,"tickCount":100,"values":[60,61,62,63,64,65,66,67,68,69,70,71,72,73,74,75,76,77,78,79,80,81,82,83,84,85,86,87,88,89,90,91,92,93,94,95,96,97,98,99,100]}},
   "y":{"field":"n","type":"quantitative","scale":{"domain":[0,1500],"nice":false},"axis":{"title":"样本量","labelOverlap":false,"tickCount":100,"values":[0,200,400,600,800,1000,1200,1400],"format":"d"}},
   "fill":{"field":"n","type":"quantitative","scale":{"scheme":"viridis","domain":[0,1300]},"legend":null}}},
 {"layer":[
  {"data":{"name":"zr"},"mark":{"type":"circle","size":5,"color":"#ff7f0e","opacity":1},
   "encoding":{"x":{"field":"x","type":"quantitative"},"y":{"datum":0,"type":"quantitative"}}},
  {"data":{"name":"s7"},"mark":{"type":"circle","size":5,"color":"#ff7f0e","opacity":1},
   "encoding":{"x":{"field":"x","type":"quantitative"},"y":{"field":"y","type":"quantitative","scale":{"domain":[-0.01,0.01],"nice":false,"zero":false},"axis":{"orient":"right","title":"转移概率","titleAngle":270,"titlePadding":12,"labelOverlap":false,"tickCount":100,"values":[-0.01,-0.0075,-0.005,-0.0025,0,0.0025,0.005,0.0075,0.01],"format":".4f"}}}},
  {"data":{"name":"f7"},"mark":{"type":"line","color":"#1f77b4","strokeWidth":1.5},
   "encoding":{"x":{"field":"x","type":"quantitative"},"y":{"field":"y","type":"quantitative"}}}
 ]},
 {"data":{"values":[{"i":1,"t":"可决系数(r2_score)： 0.0072"},{"i":2,"t":"均方误差 (MSE)： 0.0000"},{"i":3,"t":"平均绝对误差 (MAE)： 0.0001"},{"i":4,"t":"根均方误差 (RMSE)： 0.0003"}]},
  "mark":{"type":"text","align":"left","baseline":"middle","fontSize":14,"font":"Noto Sans CJK SC","color":"#000"},
  "encoding":{"x":{"datum":60.5,"type":"quantitative"},"y":{"field":"i","type":"quantitative","scale":{"domain":[-8.129,5.186],"reverse":true,"nice":false,"zero":false},"axis":null},"text":{"field":"t"}}},
 {"data":{"values":[]},"mark":{"type":"point","filled":true},
  "encoding":{"color":{"field":"l","type":"nominal","title":null,"scale":{"domain":["Prb(2→3)","拟合结果","拟合权重(N(1,t))"],"range":["#ff7f0e","#1f77b4","#8e6a9b"]}},
   "shape":{"field":"l","type":"nominal","title":null,"scale":{"domain":["Prb(2→3)","拟合结果","拟合权重(N(1,t))"],"range":["M-0.24,0A0.24,0.24,0,1,1,0.24,0A0.24,0.24,0,1,1,-0.24,0Z","M-1.72,-0.15H1.72V0.15H-1.72Z","M-1.72,-0.62H1.72V0.62H-1.72Z"]}}}}
],"resolve":{"scale":{"y":"independent"}}},

{"width":356,"height":209,"layer":[
 {"data":{"name":"bB"},"mark":{"type":"bar","width":8.9,"clip":true,"stroke":"#ffffff","strokeWidth":1,"fillOpacity":0.6},
  "encoding":{"x":{"field":"a","type":"quantitative","scale":{"domain":[60,100],"nice":false,"zero":false,"padding":0},"axis":{"title":null,"format":"d","labelOverlap":false,"tickCount":100,"values":[60,61,62,63,64,65,66,67,68,69,70,71,72,73,74,75,76,77,78,79,80,81,82,83,84,85,86,87,88,89,90,91,92,93,94,95,96,97,98,99,100]}},
   "y":{"field":"n","type":"quantitative","scale":{"domain":[0,1500],"nice":false},"axis":{"title":"样本量","labelOverlap":false,"tickCount":100,"values":[0,200,400,600,800,1000,1200,1400],"format":"d"}},
   "fill":{"field":"n","type":"quantitative","scale":{"scheme":"viridis","domain":[0,1300]},"legend":null}}},
 {"layer":[
  {"data":{"name":"s8"},"mark":{"type":"circle","size":5,"color":"#ff7f0e","opacity":1},
   "encoding":{"x":{"field":"x","type":"quantitative"},"y":{"field":"y","type":"quantitative","scale":{"domain":[0,0.06],"nice":false,"zero":false},"axis":{"orient":"right","title":"转移概率","titleAngle":270,"titlePadding":12,"labelOverlap":false,"tickCount":100,"values":[0,0.01,0.02,0.03,0.04,0.05,0.06],"format":".2f"}}}},
  {"data":{"name":"f8"},"mark":{"type":"line","color":"#1f77b4","strokeWidth":1.5,"interpolate":"monotone"},
   "encoding":{"x":{"field":"x","type":"quantitative"},"y":{"field":"y","type":"quantitative"}}}
 ]},
 {"data":{"values":[{"i":1,"t":"可决系数(r2_score)： 0.2825"},{"i":2,"t":"均方误差 (MSE)： 0.0002"},{"i":3,"t":"平均绝对误差 (MAE)： 0.0103"},{"i":4,"t":"根均方误差 (RMSE)： 0.0135"}]},
  "mark":{"type":"text","align":"left","baseline":"middle","fontSize":14,"font":"Noto Sans CJK SC","color":"#000"},
  "encoding":{"x":{"datum":60.5,"type":"quantitative"},"y":{"field":"i","type":"quantitative","scale":{"domain":[-8.129,5.186],"reverse":true,"nice":false,"zero":false},"axis":null},"text":{"field":"t"}}},
 {"data":{"values":[]},"mark":{"type":"point","filled":true},
  "encoding":{"color":{"field":"l","type":"nominal","title":null,"scale":{"domain":["Prb(2→4)","拟合结果","拟合权重(N(1,t))"],"range":["#ff7f0e","#1f77b4","#8e6a9b"]}},
   "shape":{"field":"l","type":"nominal","title":null,"scale":{"domain":["Prb(2→4)","拟合结果","拟合权重(N(1,t))"],"range":["M-0.24,0A0.24,0.24,0,1,1,0.24,0A0.24,0.24,0,1,1,-0.24,0Z","M-1.72,-0.15H1.72V0.15H-1.72Z","M-1.72,-0.62H1.72V0.62H-1.72Z"]}}}}
],"resolve":{"scale":{"y":"independent"}}},

{"width":356,"height":209,"layer":[
 {"data":{"name":"bC"},"mark":{"type":"bar","width":8.9,"clip":true,"stroke":"#ffffff","strokeWidth":1,"fillOpacity":0.6},
  "encoding":{"x":{"field":"a","type":"quantitative","scale":{"domain":[60,100],"nice":false,"zero":false,"padding":0},"axis":{"title":null,"format":"d","labelOverlap":false,"tickCount":100,"values":[60,61,62,63,64,65,66,67,68,69,70,71,72,73,74,75,76,77,78,79,80,81,82,83,84,85,86,87,88,89,90,91,92,93,94,95,96,97,98,99,100]}},
   "y":{"field":"n","type":"quantitative","scale":{"domain":[0,20],"nice":false},"axis":{"title":"样本量","labelOverlap":false,"tickCount":100,"values":[0,2.5,5,7.5,10,12.5,15,17.5,20],"format":".1f"}},
   "fill":{"field":"n","type":"quantitative","scale":{"scheme":"viridis","domain":[0,1300]},"legend":null}}},
 {"layer":[
  {"data":{"name":"zr"},"mark":{"type":"circle","size":5,"color":"#ff7f0e","opacity":1},
   "encoding":{"x":{"field":"x","type":"quantitative"},"y":{"datum":1,"type":"quantitative"}}},
  {"data":{"name":"s9"},"mark":{"type":"circle","size":5,"color":"#ff7f0e","opacity":1},
   "encoding":{"x":{"field":"x","type":"quantitative"},"y":{"field":"y","type":"quantitative","scale":{"domain":[0.6,1.1],"nice":false,"zero":false},"axis":{"orient":"right","title":"转移概率","titleAngle":270,"titlePadding":12,"labelOverlap":false,"tickCount":100,"values":[0.6,0.7,0.8,0.9,1,1.1],"format":".1f"}}}},
  {"data":{"name":"f9"},"mark":{"type":"line","color":"#1f77b4","strokeWidth":1.5,"interpolate":"monotone"},
   "encoding":{"x":{"field":"x","type":"quantitative"},"y":{"field":"y","type":"quantitative"}}}
 ]},
 {"data":{"values":[{"i":1,"t":"可决系数(r2_score)： 0.0419"},{"i":2,"t":"均方误差 (MSE)： 0.0059"},{"i":3,"t":"平均绝对误差 (MAE)： 0.0465"},{"i":4,"t":"根均方误差 (RMSE)： 0.0769"}]},
  "mark":{"type":"text","align":"left","baseline":"middle","fontSize":14,"font":"Noto Sans CJK SC","color":"#000"},
  "encoding":{"x":{"datum":60.5,"type":"quantitative"},"y":{"field":"i","type":"quantitative","scale":{"domain":[-8.129,5.186],"reverse":true,"nice":false,"zero":false},"axis":null},"text":{"field":"t"}}},
 {"data":{"values":[]},"mark":{"type":"point","filled":true},
  "encoding":{"color":{"field":"l","type":"nominal","title":null,"scale":{"domain":["Prb(3→3)","拟合结果","拟合权重(N(1,t))"],"range":["#ff7f0e","#1f77b4","#8e6a9b"]}},
   "shape":{"field":"l","type":"nominal","title":null,"scale":{"domain":["Prb(3→3)","拟合结果","拟合权重(N(1,t))"],"range":["M-0.24,0A0.24,0.24,0,1,1,0.24,0A0.24,0.24,0,1,1,-0.24,0Z","M-1.72,-0.15H1.72V0.15H-1.72Z","M-1.72,-0.62H1.72V0.62H-1.72Z"]}}}}
],"resolve":{"scale":{"y":"independent"}}},

{"width":356,"height":209,"layer":[
 {"data":{"name":"bC"},"mark":{"type":"bar","width":8.9,"clip":true,"stroke":"#ffffff","strokeWidth":1,"fillOpacity":0.6},
  "encoding":{"x":{"field":"a","type":"quantitative","scale":{"domain":[60,100],"nice":false,"zero":false,"padding":0},"axis":{"title":null,"format":"d","labelOverlap":false,"tickCount":100,"values":[60,61,62,63,64,65,66,67,68,69,70,71,72,73,74,75,76,77,78,79,80,81,82,83,84,85,86,87,88,89,90,91,92,93,94,95,96,97,98,99,100]}},
   "y":{"field":"n","type":"quantitative","scale":{"domain":[0,20],"nice":false},"axis":{"title":"样本量","labelOverlap":false,"tickCount":100,"values":[0,2.5,5,7.5,10,12.5,15,17.5,20],"format":".1f"}},
   "fill":{"field":"n","type":"quantitative","scale":{"scheme":"viridis","domain":[0,1300]},"legend":null}}},
 {"layer":[
  {"data":{"name":"zr"},"mark":{"type":"circle","size":5,"color":"#ff7f0e","opacity":1},
   "encoding":{"x":{"field":"x","type":"quantitative"},"y":{"datum":0,"type":"quantitative"}}},
  {"data":{"name":"s10"},"mark":{"type":"circle","size":5,"color":"#ff7f0e","opacity":1},
   "encoding":{"x":{"field":"x","type":"quantitative"},"y":{"field":"y","type":"quantitative","scale":{"domain":[-0.1,0.5],"nice":false,"zero":false},"axis":{"orient":"right","title":"转移概率","titleAngle":270,"titlePadding":12,"labelOverlap":false,"tickCount":100,"values":[-0.1,0,0.1,0.2,0.3,0.4,0.5],"format":".1f"}}}},
  {"data":{"name":"f10"},"mark":{"type":"line","color":"#1f77b4","strokeWidth":1.5,"interpolate":"monotone"},
   "encoding":{"x":{"field":"x","type":"quantitative"},"y":{"field":"y","type":"quantitative"}}}
 ]},
 {"data":{"values":[{"i":1,"t":"可决系数(r2_score)： 0.0419"},{"i":2,"t":"均方误差 (MSE)： 0.0059"},{"i":3,"t":"平均绝对误差 (MAE)： 0.0465"},{"i":4,"t":"根均方误差 (RMSE)： 0.0769"}]},
  "mark":{"type":"text","align":"left","baseline":"middle","fontSize":14,"font":"Noto Sans CJK SC","color":"#000"},
  "encoding":{"x":{"datum":60.5,"type":"quantitative"},"y":{"field":"i","type":"quantitative","scale":{"domain":[-8.129,5.186],"reverse":true,"nice":false,"zero":false},"axis":null},"text":{"field":"t"}}},
 {"data":{"values":[]},"mark":{"type":"point","filled":true},
  "encoding":{"color":{"field":"l","type":"nominal","title":null,"scale":{"domain":["Prb(3→4)","拟合结果","拟合权重(N(1,t))"],"range":["#ff7f0e","#1f77b4","#8e6a9b"]}},
   "shape":{"field":"l","type":"nominal","title":null,"scale":{"domain":["Prb(3→4)","拟合结果","拟合权重(N(1,t))"],"range":["M-0.24,0A0.24,0.24,0,1,1,0.24,0A0.24,0.24,0,1,1,-0.24,0Z","M-1.72,-0.15H1.72V0.15H-1.72Z","M-1.72,-0.62H1.72V0.62H-1.72Z"]}}}}
],"resolve":{"scale":{"y":"independent"}}}
],
"columns": 3,
"spacing": {"row": 42, "column": 71},
"bounds": "flush",
"resolve": {"scale": {"color": "independent", "shape": "independent"}, "legend": {"color": "independent", "shape": "independent"}},
"config": {
 "font": "Noto Sans CJK SC",
 "view": {"stroke": "#000000", "strokeWidth": 1},
 "axis": {"grid": false, "domain": false, "tickColor": "#000000", "tickSize": 3.5, "tickWidth": 0.8, "labelColor": "#222222", "labelFontSize": 7.5, "labelFont": "Noto Sans CJK SC", "labelPadding": 1.5, "titleFont": "Noto Sans CJK SC", "titleFontSize": 8, "titleFontWeight": "normal", "titleColor": "#000000", "titlePadding": 3},
 "axisX": {"labelFontSize": 6, "labelAngle": 0, "labelFlush": false},
 "legend": {"orient": "top-right", "offset": 3, "fillColor": "#ffffff", "strokeColor": "#cccccc", "cornerRadius": 2, "padding": 3, "labelFontSize": 7.5, "labelFont": "Noto Sans CJK SC", "symbolSize": 110, "symbolStrokeWidth": 0, "symbolOffset": 4, "labelOffset": 9, "rowPadding": 1}
}
}
